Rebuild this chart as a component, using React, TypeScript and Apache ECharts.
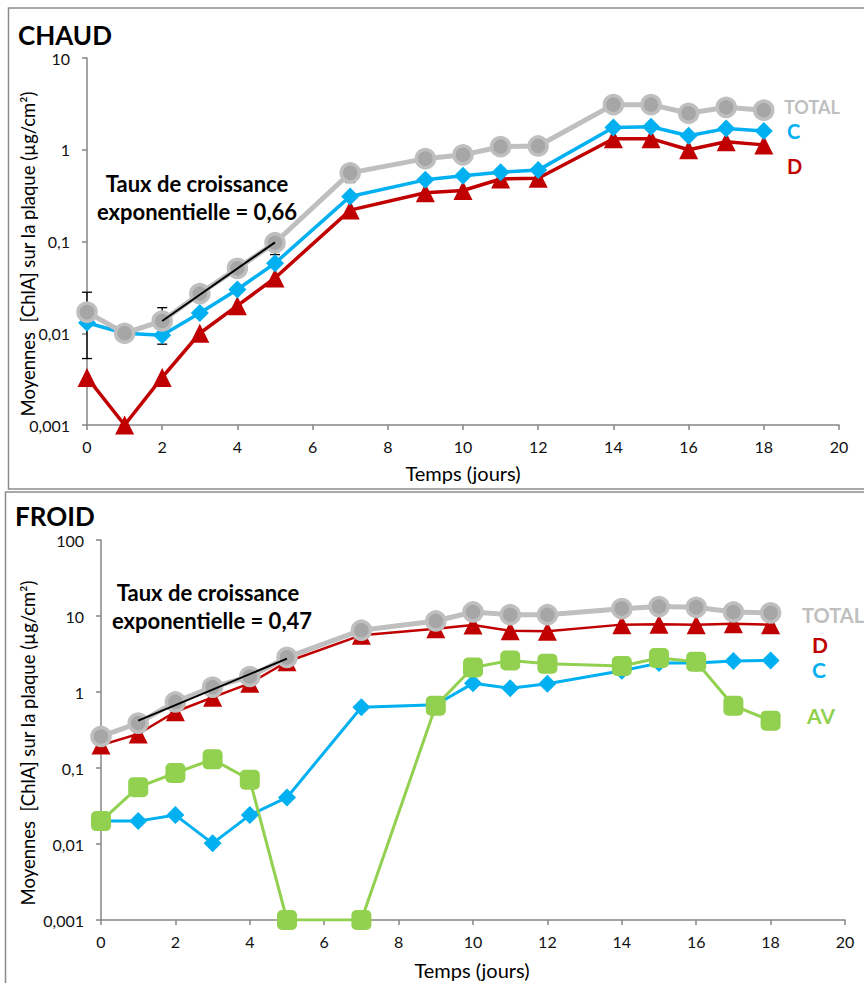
import React, { useEffect, useRef } from "react";
import * as echarts from "echarts";

const days = [0, 1, 2, 3, 4, 5, 7, 9, 10, 11, 12, 14, 15, 16, 17, 18];

// CHAUD
const chaudTotal = [0.017, 0.01, 0.0136, 0.027, 0.051, 0.097, 0.56, 0.8, 0.88, 1.08, 1.1, 3.1, 3.1, 2.5, 2.9, 2.7];
const chaudC = [0.013, 0.01, 0.0095, 0.0166, 0.03, 0.058, 0.31, 0.47, 0.52, 0.57, 0.6, 1.75, 1.78, 1.42, 1.7, 1.6];
const chaudD = [0.0033, 0.001, 0.0033, 0.01, 0.02, 0.04, 0.22, 0.34, 0.36, 0.48, 0.49, 1.32, 1.32, 1.0, 1.22, 1.13];
const chaudErrDays = [0, 2, 5, 7];
const chaudErrLow = [0.0053, 0.0076, 0.072, 0.44];
const chaudErrHigh = [0.028, 0.019, 0.12, 0.66];
const chaudTrendX = [2, 5];
const chaudTrendY = [0.0136, 0.098];

// FROID
const froidTotal = [0.26, 0.39, 0.74, 1.16, 1.6, 2.85, 6.5, 8.6, 11.3, 10.4, 10.4, 12.5, 13.3, 13.0, 11.3, 11.0];
const froidD = [0.2, 0.28, 0.55, 0.85, 1.3, 2.5, 5.6, 6.8, 7.6, 6.4, 6.3, 7.7, 7.8, 7.7, 7.9, 7.7];
const froidC = [0.02, 0.02, 0.024, 0.0102, 0.024, 0.041, 0.63, 0.68, 1.3, 1.12, 1.28, 1.9, 2.4, 2.4, 2.55, 2.6];
const froidAV = [0.02, 0.056, 0.086, 0.13, 0.07, 0.001, 0.001, 0.66, 2.1, 2.6, 2.35, 2.2, 2.8, 2.5, 0.66, 0.42];
const froidTrendX = [1, 5];
const froidTrendY = [0.42, 2.75];

const FONT = "Lato";
const GRAY_LINE = "#bfbfbf";
const GRAY_FILL = "#a6a6a6";
const BLUE = "#00b0f0";
const RED = "#c00000";
const GREEN = "#92d050";
const AXIS = "#868686";

const zip = (xs: number[], ys: number[]) => xs.map((x, i) => [x, ys[i]]);

const fmtLog = (v: number) => {
  const e = Math.round(Math.log10(v));
  if (e < 0) return "0," + "0".repeat(-e - 1) + "1";
  return String(Math.round(Math.pow(10, e)));
};

function xAxisOpt(gridIndex: number) {
  return {
    type: "value",
    gridIndex,
    min: 0,
    max: 20,
    interval: 2,
    axisLine: { show: true, lineStyle: { color: AXIS, width: 1.5 } },
    axisTick: { show: true, inside: false, length: 5, lineStyle: { color: AXIS, width: 1.5 } },
    axisLabel: { color: "#111", fontFamily: FONT, fontSize: 16, margin: 13 },
    splitLine: { show: false },
  };
}

function yAxisOpt(gridIndex: number, max: number) {
  return {
    type: "log",
    logBase: 10,
    gridIndex,
    min: 0.001,
    max,
    axisLine: { show: true, onZero: false, lineStyle: { color: AXIS, width: 1.5 } },
    axisTick: { show: true, inside: false, length: 5, lineStyle: { color: AXIS, width: 1.5 } },
    axisLabel: { color: "#111", fontFamily: FONT, fontSize: 16, margin: 17, formatter: fmtLog },
    splitLine: { show: false },
    minorTick: { show: false },
  };
}

function lineSeries(name: string, idx: number, ys: number[], color: string, symbol: string, size: number, width: number, extra: any = {}) {
  return {
    name,
    type: "line",
    xAxisIndex: idx,
    yAxisIndex: idx,
    data: zip(days, ys),
    symbol,
    symbolSize: size,
    showAllSymbol: true,
    lineStyle: { color, width },
    itemStyle: { color, borderWidth: 0 },
    z: 3,
    ...extra,
  };
}

function totalSeries(idx: number, ys: number[]) {
  return lineSeries("TOTAL", idx, ys, GRAY_LINE, "circle", 18, 5, {
    itemStyle: { color: GRAY_FILL, borderColor: GRAY_LINE, borderWidth: 3.5 },
    z: 4,
  });
}

function trendSeries(idx: number, xs: number[], ys: number[]) {
  return {
    type: "line",
    xAxisIndex: idx,
    yAxisIndex: idx,
    data: zip(xs, ys),
    symbol: "none",
    lineStyle: { color: "#000", width: 2 },
    z: 6,
  };
}

export default function App() {
  const ref = useRef<HTMLDivElement>(null);
  useEffect(() => {
    if (!ref.current) return;
    const chart = echarts.init(ref.current, null, { renderer: "svg" });

    const errData = chaudErrDays.map((d, i) => [d, chaudErrLow[i], chaudErrHigh[i]]);

    const text = (t: string, x: number, y: number, opts: any = {}) => ({
      type: "text",
      x,
      y,
      style: {
        text: t,
        fontFamily: FONT,
        fontSize: opts.size || 16,
        fontWeight: opts.bold ? "bold" : "normal",
        fill: opts.color || "#000",
        textAlign: opts.align || "left",
        textVerticalAlign: "middle",
      },
      rotation: opts.rotation || 0,
      z: 10,
    });

    const yTitle = "Moyennes  [ChlA] sur la plaque (µg/cm²)";

    chart.setOption({
      animation: false,
      backgroundColor: "#fff",
      grid: [
        { left: 87, top: 58, width: 752, height: 367 },
        { left: 101, top: 540, width: 744, height: 380 },
      ],
      xAxis: [xAxisOpt(0), xAxisOpt(1)],
      yAxis: [yAxisOpt(0, 10), yAxisOpt(1, 100)],
      series: [
        {
          type: "custom",
          xAxisIndex: 0,
          yAxisIndex: 0,
          data: errData,
          encode: { x: 0, y: [1, 2] },
          z: 1,
          renderItem: (_p: any, api: any) => {
            const x = api.value(0);
            const lo = api.coord([x, api.value(1)]);
            const hi = api.coord([x, api.value(2)]);
            const w = 5;
            const st = { stroke: "#000", lineWidth: 1.3 };
            return {
              type: "group",
              children: [
                { type: "line", shape: { x1: lo[0], y1: lo[1], x2: hi[0], y2: hi[1] }, style: st },
                { type: "line", shape: { x1: lo[0] - w, y1: lo[1], x2: lo[0] + w, y2: lo[1] }, style: st },
                { type: "line", shape: { x1: hi[0] - w, y1: hi[1], x2: hi[0] + w, y2: hi[1] }, style: st },
              ],
            };
          },
        },
        lineSeries("D", 0, chaudD, RED, "triangle", 19, 3.5),
        lineSeries("C", 0, chaudC, BLUE, "diamond", 18, 3.5),
        totalSeries(0, chaudTotal),
        trendSeries(0, chaudTrendX, chaudTrendY),

        lineSeries("D", 1, froidD, RED, "triangle", 19, 2.5),
        lineSeries("C", 1, froidC, BLUE, "diamond", 18, 3),
        lineSeries("AV", 1, froidAV, GREEN, "roundRect", 20, 3),
        totalSeries(1, froidTotal),
        trendSeries(1, froidTrendX, froidTrendY),
      ],
      graphic: [
        { type: "rect", shape: { x: 8.5, y: 8, width: 870, height: 481 }, style: { fill: "none", stroke: "#8c8c8c", lineWidth: 1.5 }, z: 0 },
        { type: "rect", shape: { x: 5.5, y: 492, width: 880, height: 520 }, style: { fill: "none", stroke: "#8c8c8c", lineWidth: 1.5 }, z: 0 },
        text("CHAUD", 18, 35, { size: 26, bold: true }),
        text("FROID", 15, 516, { size: 26, bold: true }),
        text(yTitle, 28, 254, { size: 18.5, align: "center", rotation: Math.PI / 2 }),
        text(yTitle, 28, 743, { size: 18.5, align: "center", rotation: Math.PI / 2 }),
        text("Temps (jours)", 463, 473, { size: 20, align: "center" }),
        text("Temps (jours)", 472, 970, { size: 20, align: "center" }),
        text("Taux de croissance", 197, 183, { size: 22, bold: true, align: "center" }),
        text("exponentielle = 0,66", 197, 211, { size: 22, bold: true, align: "center" }),
        text("Taux de croissance", 208, 592, { size: 22, bold: true, align: "center" }),
        text("exponentielle = 0,47", 212, 620, { size: 22, bold: true, align: "center" }),
        text("TOTAL", 784, 107, { size: 18, bold: true, color: "#bfbfbf" }),
        text("C", 787, 131, { size: 20, bold: true, color: BLUE }),
        text("D", 787, 166, { size: 20, bold: true, color: RED }),
        text("TOTAL", 802, 615, { size: 20, bold: true, color: "#bfbfbf" }),
        text("D", 812, 644, { size: 21, bold: true, color: RED }),
        text("C", 812, 669, { size: 21, bold: true, color: BLUE }),
        text("AV", 807, 715, { size: 21, bold: true, color: GREEN }),
      ],
    });
    return () => chart.dispose();
  }, []);
  return (
    <div
      ref={ref}
      style={{ position: "fixed", left: 0, top: 0, width: 864, height: 983, background: "#fff" }}
    />
  );
}
